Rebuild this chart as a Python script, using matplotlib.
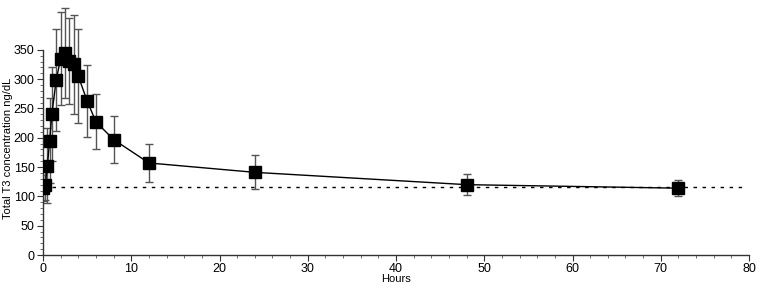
import matplotlib
matplotlib.use("Agg")
import matplotlib.pyplot as plt
from matplotlib.ticker import MultipleLocator, FixedLocator

hours = [0, 0.25, 0.5, 0.75, 1, 1.5, 2, 2.5, 3, 3.5, 4, 5, 6, 8, 12, 24, 48, 72]
t3_mean = [114, 119, 152, 195, 240, 299, 335, 345, 331, 325, 305, 263, 227, 197, 157, 141, 120, 114]
t3_sd = [22, 25, 64, 73, 80, 87, 79, 77, 74, 84, 80, 61, 47, 40, 32, 29, 18, 14]
baseline = 116
x_ticks = [0, 10, 20, 30, 40, 50, 60, 70, 80]
y_ticks = [0, 50, 100, 150, 200, 250, 300, 350]

plt.rcParams['font.family'] = ['Liberation Sans Narrow', 'Liberation Sans', 'DejaVu Sans']

fig = plt.figure(figsize=(7.65, 2.89), dpi=100)
ax = fig.add_axes([43/765, 34/289, (749-43)/765, 1 - 34/289])

ax.errorbar(hours, t3_mean, yerr=t3_sd, fmt='none', ecolor='#555555',
            elinewidth=1.0, capsize=3, capthick=1.0, zorder=2)
ax.plot(hours, t3_mean, color='black', lw=1.0, marker='s', markersize=8.5,
        markerfacecolor='black', markeredgecolor='black', zorder=3)
ax.plot([0, 79.5], [baseline, baseline], color='black', lw=1.0,
        linestyle=(0, (2.5, 4)), zorder=1)

ax.set_xlim(0, 80)
ax.set_ylim(0, 435)
ax.set_xticks(x_ticks)
ax.set_yticks(y_ticks)
ax.xaxis.set_minor_locator(MultipleLocator(2))
ax.yaxis.set_minor_locator(FixedLocator([v for v in range(0, 351, 10) if v % 50]))
ax.spines['top'].set_visible(False)
ax.spines['right'].set_visible(False)
ax.spines['left'].set_bounds(0, 350)
for s in ('left', 'bottom'):
    ax.spines[s].set_color('#333333')
    ax.spines[s].set_linewidth(1.0)
ax.tick_params(axis='both', which='major', length=4, width=0.8, labelsize=9,
               colors='#333333', labelcolor='black', pad=2)
ax.tick_params(axis='both', which='minor', length=2.5, width=0.6, colors='#555555')

ax.set_xlabel('Hours', fontsize=8, labelpad=-1)
ax.set_ylabel('Total T3 concentration ng/dL', fontsize=8, labelpad=3)
ax.yaxis.set_label_coords(-0.042, 0.42)

fig.savefig('out.png', dpi=100)
